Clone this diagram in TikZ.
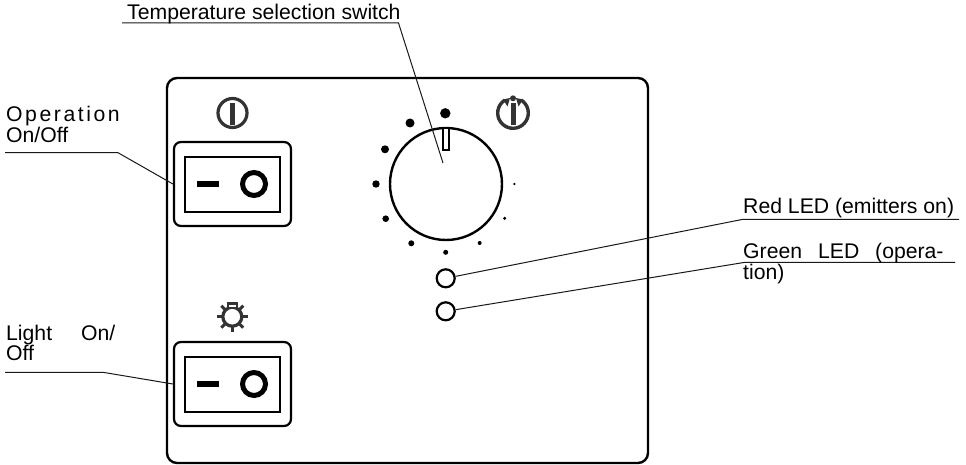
\documentclass[tikz,border=0pt]{standalone}
\usepackage{fontspec}
\setmainfont{Liberation Sans}
\begin{document}
\begin{tikzpicture}[x=1pt,y=-1pt,
  panel/.style={draw=black,line width=2.4pt,rounded corners=10pt},
  rocker/.style={draw=black,line width=2.2pt,rounded corners=7pt},
  face/.style={draw=black,line width=2.2pt},
  lead/.style={draw=black!90,line width=1pt},
  icon/.style={draw=black!80,line width=3.2pt},
  dot/.style={fill=black,circle,inner sep=0pt,minimum size=#1},
  lbl/.style={font=\fontsize{21.2}{21.2}\selectfont,inner sep=0pt,anchor=base west}]
\useasboundingbox (0,0) rectangle (966,465);
\node[panel,minimum width=481pt,minimum height=385pt,inner sep=0pt] (pn) at (407.5,270.5) {};
% switches
\node[rocker,minimum width=117pt,minimum height=84pt,inner sep=0pt] (s1) at (232.5,184) {};
\node[face,minimum width=95pt,minimum height=55pt,inner sep=0pt] (f1) at (232.5,184.5) {};
\node[fill=black,minimum width=22pt,minimum height=5.5pt,inner sep=0pt] (d1) at (207.5,184) {};
\node[draw=black,line width=5pt,circle,minimum size=23pt,inner sep=0pt] (o1) at (254,184) {};
\node[rocker,minimum width=117pt,minimum height=84pt,inner sep=0pt] (s2) at (232.5,384) {};
\node[face,minimum width=95pt,minimum height=55pt,inner sep=0pt] (f2) at (232.5,384.5) {};
\node[fill=black,minimum width=22pt,minimum height=5.5pt,inner sep=0pt] (d2) at (207.5,384) {};
\node[draw=black,line width=5pt,circle,minimum size=23pt,inner sep=0pt] (o2) at (254,384) {};
% power icon
\draw[icon] (232.5,113) circle (14.5);
\fill[black!80] (230,103) rectangle (235,125);
% bulb icon
\draw[icon] (232.3,316.7) circle (9.5);
\foreach \a in {0,45,90,135,180,-45,-135}
  \draw[black!80,line width=3pt] (232.3,316.7)++(\a:10.5) -- ++(\a:5);
\draw[black!80,line width=2.6pt,fill=white] (228,303.3) rectangle (237,308);
% dial
\node[draw=black,line width=2.4pt,circle,minimum size=112pt,inner sep=0pt] (dl) at (446,184) {};
\node[draw=black,line width=1.8pt,fill=white,minimum width=6pt,minimum height=22pt,inner sep=0pt] (ix) at (445.7,139) {};
\node[dot=10.4pt] (t1) at (445.3,113.3) {};
\node[dot=9pt] (t2) at (410,123) {};
\node[dot=8pt] (t3) at (385,149.3) {};
\node[dot=7.4pt] (t4) at (376,184) {};
\node[dot=6.6pt] (t5) at (385.7,218.7) {};
\node[dot=6pt] (t6) at (411.3,243.3) {};
\node[dot=5pt] (t7) at (445.7,252.3) {};
\node[dot=4pt] (t8) at (479.7,243) {};
\node[dot=3.4pt] (t9) at (504.7,218.3) {};
\node[dot=2.4pt] (t10) at (514.3,184) {};
% thermo icon
\draw[icon,line width=3.4pt] (513,113)++(-58:15.3) arc[start angle=-58,end angle=238,radius=15.3];
\fill[black!80] (503,99.5) -- (510,98) -- (507.5,106.5) -- cycle;
\fill[black!80] (523,99.5) -- (516,98) -- (518.5,106.5) -- cycle;
\fill[black!80] (510.7,103) rectangle (515.7,125);
\fill[black!80] (513,98.3) circle (3);
% LEDs
\node[draw=black,line width=2.2pt,circle,minimum size=18pt,inner sep=0pt] (r) at (445.7,278.3) {};
\node[draw=black,line width=2.2pt,circle,minimum size=18pt,inner sep=0pt] (g) at (445.7,311.3) {};
% leader coordinates
\coordinate (tA) at (122,23); \coordinate (tB) at (398.5,23); \coordinate (tC) at (443,163);
\coordinate (oA) at (5,152.7); \coordinate (oB) at (118,152.7);
\coordinate (lA) at (5,372.3); \coordinate (lB) at (103,372.3);
\coordinate (rA) at (743,219.3); \coordinate (rB) at (959,219.3);
\coordinate (gA) at (745,262.3); \coordinate (gB) at (955,262.3);
\draw[lead] (tA) -- (tB) -- (tC);
\draw[lead] (oA) -- (oB) -- (s1.west);
\draw[lead] (lA) -- (lB) -- (s2.west);
\draw[lead] (rB) -- (rA) -- (r);
\draw[lead] (gB) -- (gA) -- (g);
% labels
\node[lbl] (lt) at (127,20) {Temperature selection switch};
\node[lbl] (lo1) at (6,121.7) {\addfontfeature{LetterSpace=12}Operation};
\node[lbl] (lo2) at (6,142.7) {On/Off};
\node[lbl] (ll1) at (6,340.7) {Light};
\node[lbl] (ll2) at (81,340.7) {On/};
\node[lbl] (ll3) at (6,360.7) {Off};
\node[lbl] (lr) at (743,214) {Red LED (emitters on)};
\node[lbl] (lg1) at (743,258) {Green};
\node[lbl] (lg2) at (818,258) {LED};
\node[lbl] (lg3) at (875,258) {(opera-};
\node[lbl] (lg4) at (743,279) {tion)};
\end{tikzpicture}
\end{document}
